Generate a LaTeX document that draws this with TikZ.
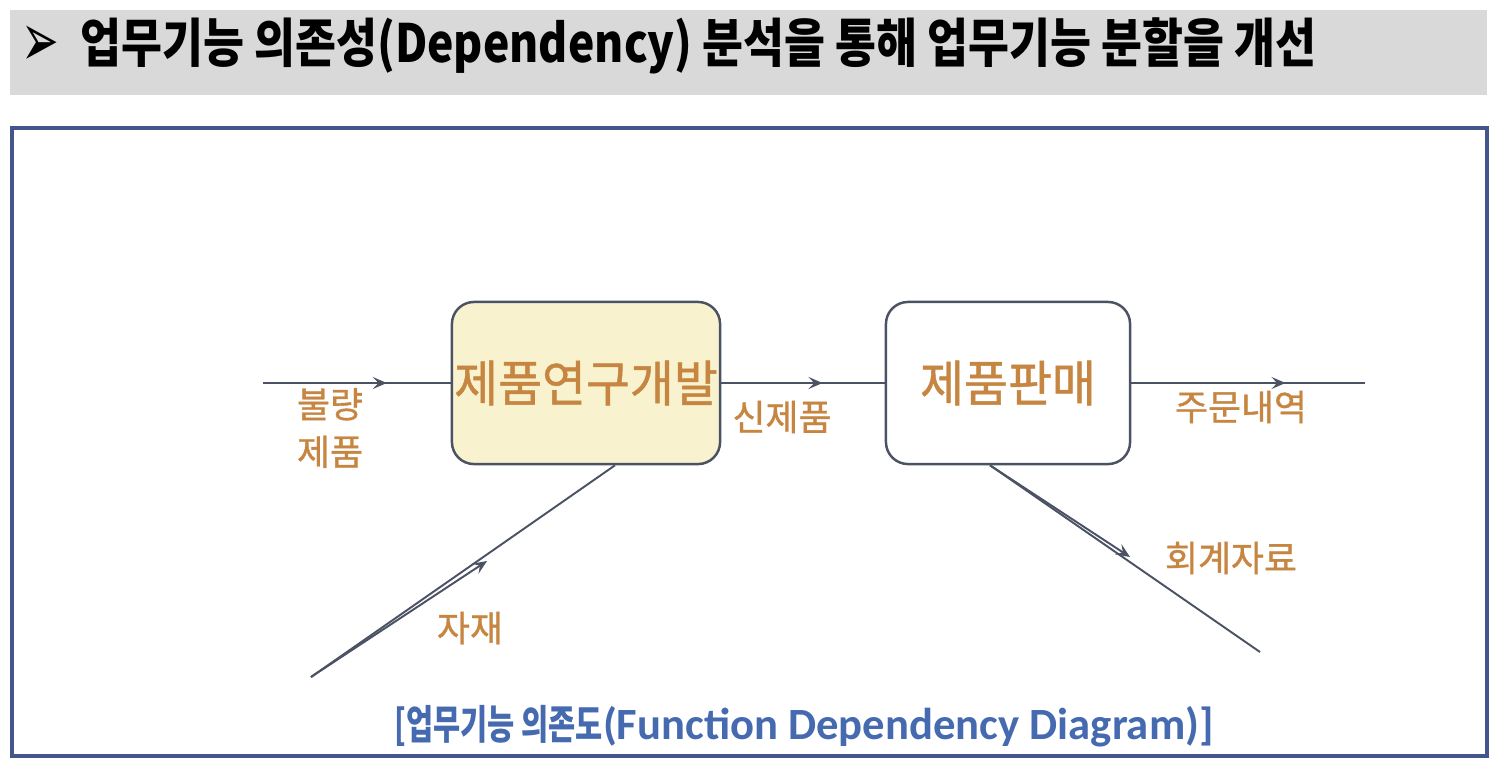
\documentclass[tikz,border=0pt]{standalone}
\usepackage{fontspec}
\setmainfont{Carlito}
\newfontfamily\kr{Noto Sans CJK KR}
\newfontfamily\krm[FakeBold=1]{Noto Sans CJK KR}
\newfontfamily\dv{DejaVu Sans}
\usetikzlibrary{arrows.meta,decorations.markings}
\definecolor{linec}{RGB}{75,82,99}
\definecolor{lab}{RGB}{198,134,66}
\definecolor{framec}{RGB}{68,84,140}
\definecolor{capc}{RGB}{70,106,176}
\definecolor{boxfill}{RGB}{248,242,207}
\definecolor{bandc}{RGB}{217,217,217}
\begin{document}
\begin{tikzpicture}[x=0.01cm,y=-0.01cm,
  tip/.style={-{Stealth[length=4pt,width=3.4pt,inset=1.6pt]}},
  flow/.style={draw=linec,line width=0.55pt,postaction={decorate},
    decoration={markings,mark=at position #1 with {\arrow{Stealth[length=4pt,width=3.4pt,inset=1.6pt]}}}},
  flow/.default=0.5,
  plain/.style={draw=linec,line width=0.55pt},
  fbox/.style={draw=linec,line width=0.7pt,rounded corners=0.22cm,minimum height=1.62cm,
    text=lab,font=\krm\fontsize{14}{16}\selectfont,inner sep=0pt},
  lbl/.style={text=lab,font=\krm\fontsize{10.2}{12.5}\selectfont,inner sep=0pt,align=center}
]
\useasboundingbox (0,0) rectangle (1500,766);
% title band
\fill[bandc] (10,10) rectangle (1487,95);
\node[inner sep=0pt] (bullet) at (40,46)
  {\scalebox{0.8}[1.35]{\fontsize{16}{18}\selectfont\dv ➢}};
\node[anchor=west,inner sep=0pt] (title) at (80,46)
  {\scalebox{0.843}[1]{\fontsize{15}{17}\selectfont\kr\bfseries 업무기능 의존성(Dependency) 분석을 통해 업무기능 분할을 개선}};
% frame
\draw[framec,line width=1.15pt] (12,128) rectangle (1487,756);
% boxes
\node[fbox,fill=boxfill,minimum width=2.68cm] (b1) at (586,383) {\scalebox{0.97}[1]{제품연구개발}};
\node[fbox,fill=white,minimum width=2.44cm] (b2) at (1008,383) {\scalebox{0.97}[1]{제품판매}};
% free ends
\coordinate (in1) at (263,383);
\coordinate (out1) at (1365,383);
\coordinate (mat) at (311,677);
\coordinate (acc) at (1260,652);
\coordinate (matT) at (487,561);
\coordinate (accT) at (1130,557);
% connectors
\draw[flow=0.66] (in1) -- (b1.west);
\draw[flow=0.62] (b1.east) -- (b2.west);
\draw[flow=0.66] (b2.east) -- (out1);
\draw[plain] (mat) -- ([xshift=0.29cm]b1.south);
\draw[plain,tip] (mat) -- (matT);
\draw[plain] ([xshift=-0.18cm]b2.south) -- (acc);
\draw[plain,tip] ([xshift=-0.18cm]b2.south) -- (accT);
% labels
\node[lbl] (l1) at (330,428) {불량\\[1pt]제품};
\node[lbl] (l2) at (782,417) {신제품};
\node[lbl] (l3) at (1241,407) {주문내역};
\node[lbl] (l4) at (1231,558) {회계자료};
\node[lbl] (l5) at (470,628) {자재};
% caption
\node[text=capc,inner sep=0pt] (cap) at (804,726)
  {\bfseries\fontsize{12.7}{15}\selectfont\scalebox{0.73}[1]{\kr\fontsize{11.5}{13}\selectfont [업무기능 의존도}(Function Dependency Diagram)]};
\end{tikzpicture}
\end{document}
